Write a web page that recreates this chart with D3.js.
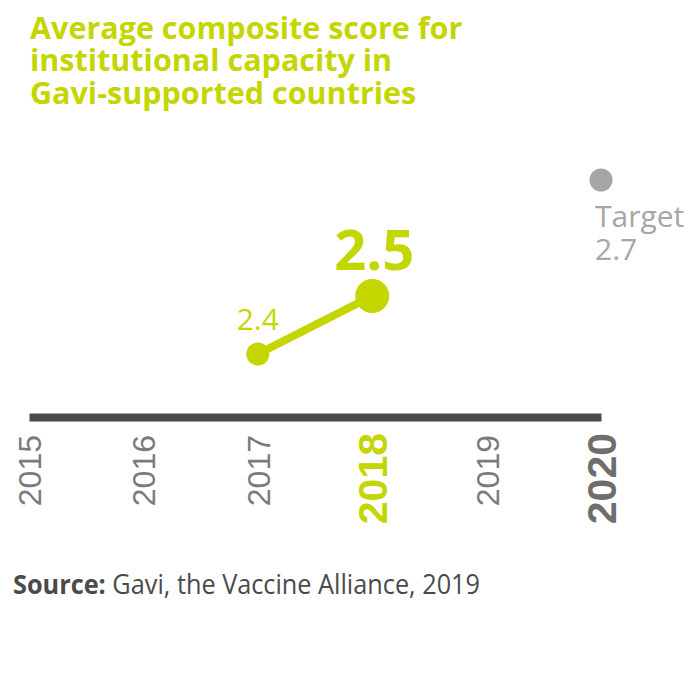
<!DOCTYPE html>
<html>
<head>
<meta charset="utf-8">
<script src="https://cdn.jsdelivr.net/npm/d3@7"></script>
<style>
  html, body { margin: 0; padding: 0; background: #ffffff; }
  svg { display: block; }
</style>
</head>
<body>
<svg id="chart" width="700" height="700"></svg>
<script>
// ---- data ----
const titleLines = ["Average composite score for", "institutional capacity in", "Gavi-supported countries"];
const years = [2015, 2016, 2017, 2018, 2019, 2020];
const seriesYears = [2017, 2018];
const seriesValues = [2.4, 2.5];
const targetYear = 2020;
const targetValue = 2.7;
const targetLabel = "Target";
const highlightYear = 2018;
const sourceBold = "Source:";
const sourceText = " Gavi, the Vaccine Alliance, 2019";

// ---- styles ----
const LIME = "#c4d600";
const DARK = "#4a4a4a";
const GREY = "#7a7a7a";
const TGREY = "#a6a6a6";
const FONT = "'Open Sans', 'Noto Sans', sans-serif";
const AXFONT = "'Liberation Sans', Arial, sans-serif";

const svg = d3.select("#chart");

const x = d3.scaleLinear().domain([2015, 2020]).range([29, 601]);
const y = d3.scaleLinear().domain([2.4, 2.7]).range([354, 180]);

// title
const title = svg.append("text")
  .attr("font-family", FONT).attr("font-weight", 700).attr("font-size", 30.5)
  .attr("fill", LIME);
title.selectAll("tspan").data(titleLines).join("tspan")
  .attr("x", 30).attr("y", (d, i) => 39 + i * 32.3).text(d => d);

// axis
const axisY = 417;
const axis = d3.axisBottom(x).tickValues(years).tickFormat(d3.format("d")).tickSize(0).tickSizeOuter(0);
const gAxis = svg.append("g").attr("transform", `translate(0,${axisY})`).call(axis);
gAxis.select(".domain").attr("stroke", DARK).attr("stroke-width", 8);
gAxis.selectAll(".tick text")
  .attr("transform", "rotate(-90)")
  .attr("text-anchor", "end")
  .attr("x", d => (d === highlightYear || d === targetYear) ? -16 : -18)
  .attr("y", 0).attr("dy", "0.36em")
  .attr("font-family", AXFONT)
  .attr("font-size", d => (d === highlightYear || d === targetYear) ? 41 : 32)
  .attr("font-weight", d => (d === highlightYear || d === targetYear) ? 700 : 400)
  .attr("fill", d => d === highlightYear ? LIME : (d === targetYear ? "#6e6e6e" : GREY));

// series line
const pts = seriesYears.map((yr, i) => ({ year: yr, value: seriesValues[i] }));
svg.append("path").datum(pts)
  .attr("d", d3.line().x(d => x(d.year)).y(d => y(d.value)))
  .attr("fill", "none").attr("stroke", LIME).attr("stroke-width", 8);

svg.append("g").selectAll("circle").data(pts).join("circle")
  .attr("cx", d => x(d.year)).attr("cy", d => y(d.value))
  .attr("r", d => d.year === highlightYear ? 17 : 11.5)
  .attr("fill", LIME);

// value labels
svg.append("g").selectAll("text").data(pts).join("text")
  .attr("x", d => x(d.year) + (d.year === highlightYear ? 2 : 0))
  .attr("y", d => y(d.value) - (d.year === highlightYear ? 26 : 24))
  .attr("text-anchor", "middle")
  .attr("font-family", FONT)
  .attr("font-weight", d => d.year === highlightYear ? 700 : 400)
  .attr("font-size", d => d.year === highlightYear ? 56 : 30)
  .attr("fill", LIME)
  .text(d => d3.format(".1f")(d.value));

// target
svg.append("circle").attr("cx", x(targetYear)).attr("cy", y(targetValue)).attr("r", 11.5).attr("fill", TGREY);
const tg = svg.append("text").attr("font-family", FONT).attr("font-size", 30).attr("fill", TGREY);
tg.append("tspan").attr("x", x(targetYear) - 6).attr("y", y(targetValue) + 47).text(targetLabel);
tg.append("tspan").attr("x", x(targetYear) - 6).attr("y", y(targetValue) + 80).text(d3.format(".1f")(targetValue));

// source
const src = svg.append("text").attr("x", 13).attr("y", 594)
  .attr("font-family", FONT).attr("font-size", 27).attr("fill", DARK)
  .attr("textLength", 467).attr("lengthAdjust", "spacingAndGlyphs");
src.append("tspan").attr("font-weight", 700).text(sourceBold);
src.append("tspan").attr("font-weight", 400).text(sourceText);
</script>
</body>
</html>
